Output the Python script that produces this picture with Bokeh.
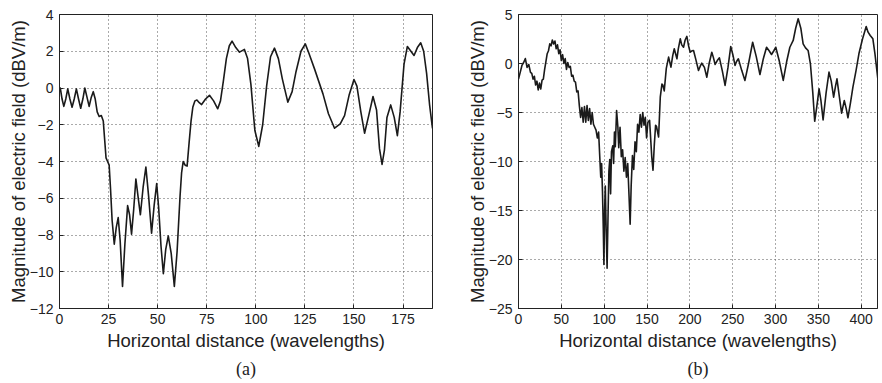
from bokeh.plotting import figure
from bokeh.layouts import row
from bokeh.models import Range1d, FixedTicker, Title
from bokeh.embed import file_html
from bokeh.resources import INLINE

# ---- panel (a) data ----
xa = [0, 0.4, 1.3, 2.2, 3.2, 4.2, 5.3, 6.4, 7.5, 8.6, 9.7, 10.8, 11.9, 12.9, 14.0, 15.1, 16.2, 17.2,
      18.2, 19.2, 20.2, 21.3, 22.3, 23.0, 23.7, 24.5, 25.3, 26.0, 26.8, 27.9, 28.9, 29.9, 30.9, 32.1,
      33.3, 34.7, 35.7, 36.7, 37.8, 38.9, 40.0, 41.2, 42.6, 44.0, 45.4, 46.9, 48.2, 49.5, 50.5, 51.7,
      52.9, 54.1, 55.4, 56.9, 58.5, 59.9, 61.4, 62.2, 63.0, 64.0, 65.0, 66.0, 67.0, 67.9, 69.0, 70.0,
      71.2, 72.4, 74.4, 76.4, 78.5, 80.6, 82.0, 83.5, 85.0, 86.5, 87.9, 89.8, 91.7, 94.2, 95.8, 97.5,
      99.5, 101.5, 103.5, 105.5, 107.5, 109.5, 111.5, 113.5, 116.3, 118.5, 120.5, 123.0, 125.2, 127.0,
      129.9, 134.2, 137.0, 140.1, 143.0, 145.2, 147.5, 150.0, 151.5, 153.5, 155.4, 157.5, 159.7, 161.5,
      163.0, 164.3, 165.5, 166.8, 168.7, 170.5, 172.1, 173.5, 175.5, 177.2, 179.0, 180.6, 182.3, 184.0,
      185.5, 187.0, 188.5, 190.0]
ya = [-0.2, 0.0, -0.6, -1.0, -0.6, -0.05, -0.6, -1.05, -0.6, -0.05, -0.6, -1.1, -0.6, 0.0, -0.5, -1.0,
      -0.5, -0.2, -0.6, -1.3, -1.55, -1.5, -1.8, -2.8, -3.8, -4.0, -4.2, -5.5, -7.2, -8.5, -7.6, -7.05,
      -8.3, -10.8, -8.5, -6.4, -6.9, -7.95, -6.6, -4.95, -5.9, -6.9, -5.4, -4.3, -5.9, -7.9, -6.4, -5.2,
      -6.5, -8.6, -10.1, -8.8, -8.05, -9.0, -10.8, -8.9, -5.9, -4.6, -4.0, -4.2, -4.25, -3.0, -1.8, -1.05,
      -0.7, -0.65, -0.8, -0.9, -0.6, -0.4, -0.7, -1.13, -0.7, 0.4, 1.6, 2.3, 2.55, 2.2, 1.95, 2.1, 1.6,
      0.2, -2.3, -3.18, -2.0, 0.1, 1.7, 2.17, 1.6, 0.5, -0.77, -0.2, 0.9, 2.0, 2.4, 1.9, 1.04, -0.32,
      -1.4, -2.19, -1.95, -1.5, -0.4, 0.46, 0.1, -1.3, -2.46, -1.5, -0.46, -1.2, -3.3, -4.16, -3.4, -1.6,
      -0.92, -1.6, -2.59, -1.3, 1.3, 2.26, 2.0, 1.77, 2.2, 2.46, 2.0, 0.8, -0.9, -2.2]
xticks_a = [0, 25, 50, 75, 100, 125, 150, 175]
yticks_a = [-12, -10, -8, -6, -4, -2, 0, 2, 4]

# ---- panel (b) data ----
xb = [0, 2, 4, 6, 8, 10, 12, 14, 15.5, 17, 18.5, 20, 21.5, 23, 24.5, 26, 27.5, 29, 30.5, 32, 33.5, 35,
      36.5, 38, 39.5, 41, 42.5, 44, 45.5, 47, 48.5, 50, 51.5, 53, 54.5, 56, 57.5, 59, 60.5, 62, 63.5, 65,
      66.5, 68, 69.5, 71, 72.5, 74, 75.5, 77, 78.5, 80, 81.5, 83, 84.5, 86, 87.5, 89, 90.5, 92, 93.5, 95,
      96, 97, 98, 99, 99.7, 100.5, 101.3, 102.2, 103.4, 104.5, 105.5, 106.5, 107.5, 108.5, 110, 111, 112,
      113, 114.5, 116, 117, 118.5, 120, 121.5, 123, 124.5, 126, 127.5, 129, 130.3, 131.5, 133, 134.5, 136,
      137.5, 139, 140.5, 142, 143.5, 145, 146.5, 148, 149.5, 151, 153, 155.5, 157, 158.5, 160, 161, 163.5,
      165.5, 167.4, 168.5, 170.1, 172.5, 175.2, 177.9, 180, 181.8, 184.9, 186.5, 188.8, 190.5, 192.6,
      194.5, 196.5, 198.5, 200.4, 202.5, 204.3, 207, 210.1, 212, 213.9, 217, 219.8, 222.5, 225.6, 227.5,
      229.5, 232, 234.5, 238, 241.1, 244.5, 247.7, 250.2, 252.7, 254.5, 256.6, 260.5, 264.3, 268.5, 273.3,
      277.5, 281.8, 285.5, 289.5, 292.5, 295.3, 298, 300.3, 304.5, 309, 313, 316.7, 320.6, 323.5, 326.4,
      329.5, 332.2, 335, 338, 340.7, 343.5, 345.7, 348, 350.8, 353, 355.5, 359, 362.4, 365, 367.8, 370,
      371.7, 374.5, 377.1, 380.2, 382.5, 384.5, 387.5, 390.3, 394, 397.3, 401.5, 405.8, 408, 410.5, 413.6,
      416, 419.4]
yb = [-1.6, -0.9, -0.2, 0.1, 0.5, -0.4, -0.1, -0.9, -1.0, -1.6, -1.3, -2.2, -1.8, -2.7, -2.0, -2.6, -1.7,
      -1.6, -0.6, 0.2, 1.0, 1.3, 2.0, 1.8, 2.4, 2.0, 2.3, 1.5, 1.9, 1.0, 1.4, 0.3, 0.9, 0.0, 0.5, -0.6, 0.1,
      -0.4, -0.3, -1.3, -1.2, -1.8, -1.9, -2.9, -2.8, -4.3, -5.5, -4.5, -6.0, -4.4, -6.0, -4.3, -5.8, -4.6,
      -6.2, -5.0, -6.2, -6.5, -6.8, -7.6, -7.0, -9.8, -11.6, -10.2, -13.0, -17.0, -20.5, -15.0, -12.5,
      -16.5, -20.9, -15.5, -11.0, -9.8, -13.3, -9.0, -8.4, -10.2, -7.0, -8.5, -4.8, -6.5, -8.6, -6.5, -9.5,
      -8.8, -11.0, -9.6, -11.6, -10.2, -13.5, -16.4, -12.5, -9.4, -10.8, -8.0, -9.0, -6.2, -7.0, -5.2,
      -6.5, -5.0, -6.3, -5.5, -7.6, -6.0, -5.8, -9.5, -10.9, -8.3, -6.3, -6.4, -7.5, -3.4, -2.1, -2.2, -2.8,
      -0.5, 0.65, -0.37, 0.8, 1.5, 0.48, 1.5, 2.52, 1.9, 1.66, 2.4, 2.76, 1.8, 1.15, 1.3, 1.33, 0.4, -0.71,
      -0.3, 0.03, -0.4, -1.4, 0.0, 1.15, 0.6, -0.1, 0.3, 0.58, -0.8, -2.24, -0.4, 1.73, 0.9, -0.2, 0.2,
      0.48, -0.7, -1.73, 0.0, 2.17, 0.7, -1.12, 0.4, 1.66, 1.3, 0.92, 1.3, 1.66, 0.2, -1.73, 0.2, 1.66,
      2.35, 3.6, 4.56, 3.6, 2.0, 1.6, 1.33, -0.03, -3.0, -5.9, -4.5, -2.58, -3.8, -5.75, -3.0, -0.88, -1.8,
      -3.44, -2.3, -1.56, -3.4, -5.07, -3.78, -4.6, -5.54, -4.0, -2.41, -0.7, 0.99, 2.5, 3.78, 3.2, 2.86,
      2.52, 1.0, -1.56]
xticks_b = [0, 50, 100, 150, 200, 250, 300, 350, 400]
yticks_b = [-25, -20, -15, -10, -5, 0, 5]

YLABEL = "Magnitude of electric field (dBV/m)"
XLABEL = "Horizontal distance (wavelengths)"
TXT = "#222222"


def make(xs, ys, xr, yr, xt, yt, caption, fw, mbl, mbr):
    p = figure(frame_width=fw, frame_height=294, output_backend="svg", toolbar_location=None,
               x_range=Range1d(*xr), y_range=Range1d(*yr),
               min_border_left=mbl, min_border_right=mbr, min_border_top=14, min_border_bottom=68)
    p.line(xs, ys, line_color="#1a1a1a", line_width=1.6, line_join="round")
    p.xaxis.ticker = FixedTicker(ticks=xt)
    p.yaxis.ticker = FixedTicker(ticks=yt)
    for ax in (p.xaxis[0], p.yaxis[0]):
        ax.major_tick_in = 4
        ax.major_tick_out = 0
        ax.minor_tick_line_color = None
        ax.axis_line_color = "#222222"
        ax.major_tick_line_color = "#222222"
        ax.major_label_text_font = "Liberation Sans"
        ax.major_label_text_font_size = "14px"
        ax.major_label_text_color = TXT
        ax.axis_label_text_font = "Liberation Sans"
        ax.axis_label_text_font_size = "18.5px"
        ax.axis_label_text_font_style = "normal"
        ax.axis_label_text_color = TXT
    p.xaxis.major_label_standoff = 5
    p.yaxis.major_label_standoff = 6
    p.xaxis.axis_label_standoff = 3
    p.yaxis.axis_label_standoff = -2
    p.xaxis.axis_label = XLABEL
    p.yaxis.axis_label = YLABEL
    p.grid.grid_line_color = "#555555"
    p.grid.grid_line_dash = "1 3"
    p.grid.grid_line_width = 1
    p.outline_line_color = "#222222"
    p.outline_line_width = 1
    p.outline_line_alpha = 1
    p.background_fill_color = "white"
    p.border_fill_color = "white"
    t = Title(text=caption, align="center", text_font="Liberation Serif", text_font_size="18px",
              text_font_style="normal", text_color=TXT, standoff=6)
    p.add_layout(t, "below")
    return p


p1 = make(xa, ya, (0, 190), (-12, 4), xticks_a, yticks_a, "(a)", 373, 59, 13)
p2 = make(xb, yb, (0, 419), (-25, 5), xticks_b, yticks_b, "(b)", 359, 73, 1)

layout = row(p1, p2)
open("out.html", "w").write(file_html(layout, INLINE))
